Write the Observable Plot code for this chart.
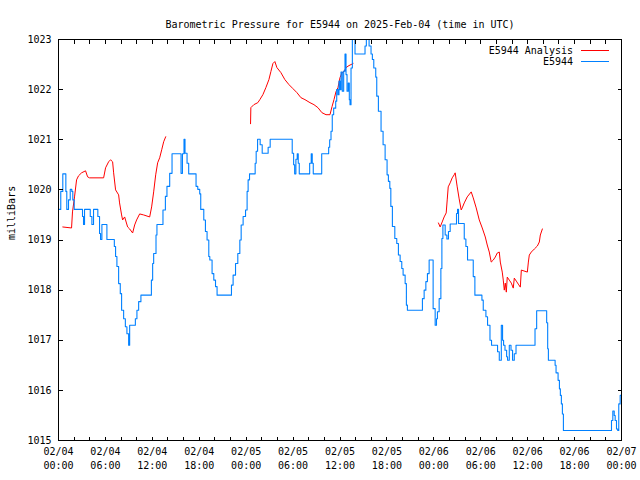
<!DOCTYPE html>
<html>
<head>
<meta charset="utf-8">
<script src="https://cdn.jsdelivr.net/npm/d3@7"></script>
<script src="https://cdn.jsdelivr.net/npm/@observablehq/plot@0.6"></script>
<style>
  html, body { margin: 0; padding: 0; background: #fff; }
  svg { display: block; }
</style>
</head>
<body>
<div id="chart"></div>
<script>
const titleText = "Barometric Pressure for E5944 on 2025-Feb-04 (time in UTC)";
const yAxisLabel = "milliBars";
const seriesNames = ["E5944 Analysis", "E5944"];
const seriesColors = ["#ff0000", "#0080ff"];
const startTimeUTC = "2025-02-04T00:00:00Z";
const spanHours = 72;

const yTickValues = [1015, 1016, 1017, 1018, 1019, 1020, 1021, 1022, 1023];
const xLabelHours = [0, 6, 12, 18, 24, 30, 36, 42, 48, 54, 60, 66, 72];
const xTickHours = [0, 2, 4, 6, 8, 10, 12, 14, 16, 18, 20, 22, 24, 26, 28, 30, 32, 34, 36,
  38, 40, 42, 44, 46, 48, 50, 52, 54, 56, 58, 60, 62, 64, 66, 68, 70, 72];

// E5944 station observations (hours since start, millibars), stepped
const stationHours = [
  0.00,0.29,0.55,0.94,1.06,1.28,1.50,1.70,1.83,2.01,
  3.07,3.20,3.33,4.06,4.27,4.48,5.03,5.25,5.38,5.55,
  6.19,7.14,7.30,7.47,7.69,7.90,8.07,8.33,8.55,8.75,
  8.97,9.10,9.83,10.03,10.25,10.54,11.88,12.04,12.17,12.47,
  12.59,13.36,13.67,13.87,14.22,14.52,15.67,15.85,16.05,16.18,
  16.44,16.65,17.59,17.81,18.06,18.19,18.58,18.79,19.00,19.22,
  19.35,19.64,19.86,20.08,20.28,22.12,22.33,22.64,22.93,23.19,
  23.36,23.61,23.92,24.12,24.25,24.43,25.15,25.28,25.46,25.79,
  26.05,26.81,27.07,29.89,30.07,30.20,30.36,30.53,30.66,30.79,
  32.12,32.32,32.45,32.58,33.66,34.55,34.68,34.85,35.01,35.19,
  35.45,35.58,35.74,35.87,36.00,36.13,36.29,36.47,36.64,36.77,
  36.90,37.06,37.19,37.28,37.41,37.58,37.92,39.20,39.37,39.72,
  39.97,40.14,40.32,40.57,40.70,40.91,41.25,41.51,41.77,42.02,
  42.19,42.37,42.50,42.70,43.01,43.26,43.47,43.69,43.90,44.07,
  44.33,44.49,44.62,46.54,46.76,46.98,47.18,47.40,47.91,48.17,
  48.34,48.46,48.68,48.90,49.03,49.16,49.45,49.67,49.87,50.09,
  50.90,51.03,51.16,51.89,52.10,52.31,53.04,53.25,54.15,54.32,
  54.66,54.87,55.18,55.38,56.15,56.37,56.63,56.79,56.92,57.10,
  57.31,57.43,57.65,57.87,58.07,58.29,58.51,60.94,61.15,62.43,
  62.56,62.65,63.51,63.63,63.89,64.06,64.18,64.31,64.44,64.57,
  70.72,70.89,71.07,71.19,71.36,71.52,71.65,71.83,72.00
];
const stationPressure = [
  1019.61,1019.97,1020.32,1019.97,1019.61,1019.8,1020.01,1019.97,1019.8,1019.61,
  1019.47,1019.31,1019.61,1019.47,1019.31,1019.61,1019.47,1019.13,1019.01,1019.31,
  1019.01,1018.87,1018.67,1018.47,1018.13,1017.93,1017.6,1017.43,1017.27,1017.13,
  1016.9,1017.3,1017.43,1017.6,1017.77,1017.9,1018.2,1018.53,1018.73,1019.1,
  1019.31,1019.6,1019.87,1020.07,1020.33,1020.72,1020.33,1020.72,1021.01,1020.73,
  1020.53,1020.32,1020.07,1020.01,1019.92,1019.61,1019.4,1019.17,1019.0,1018.67,
  1018.6,1018.33,1018.2,1018.07,1017.9,1018.1,1018.3,1018.53,1018.73,1019.0,
  1019.3,1019.47,1019.6,1019.97,1020.2,1020.32,1020.53,1020.77,1021.01,1020.9,
  1020.73,1020.85,1021.01,1020.73,1020.5,1020.32,1020.61,1020.72,1020.53,1020.32,
  1020.53,1020.72,1020.53,1020.32,1020.72,1020.85,1021.0,1021.17,1021.5,1021.63,
  1021.77,1022.0,1021.9,1022.17,1022.0,1022.35,1021.97,1022.37,1022.71,1022.3,
  1021.97,1022.13,1021.8,1021.7,1022.43,1023.0,1022.71,1022.87,1023.0,1022.87,
  1022.71,1022.6,1022.43,1022.25,1021.87,1021.57,1021.17,1020.9,1020.6,1020.3,
  1020.17,1020.03,1019.67,1019.27,1019.03,1018.93,1018.7,1018.57,1018.43,1018.3,
  1018.13,1017.7,1017.6,1017.83,1018.0,1018.17,1018.33,1018.6,1017.63,1017.3,
  1017.43,1017.57,1017.83,1018.43,1019.03,1019.3,1019.1,1019.02,1019.17,1019.32,
  1019.53,1019.61,1019.33,1019.02,1018.87,1018.6,1018.27,1017.9,1017.8,1017.6,
  1017.47,1017.3,1017.0,1016.9,1016.77,1016.6,1017.3,1017.0,1016.9,1016.8,
  1016.67,1016.6,1016.9,1016.8,1016.6,1016.73,1016.9,1017.23,1017.59,1017.35,
  1016.83,1016.6,1016.5,1016.35,1016.2,1016.03,1015.9,1015.73,1015.53,1015.2,
  1015.4,1015.59,1015.5,1015.4,1015.23,1015.2,1015.73,1015.9,1015.9
];

// E5944 Analysis (hours since start, millibars); null separates the runs
const analysisHours = [
  0.55,1.67,1.79,2.05,2.31,2.56,2.95,3.46,3.72,3.97,
  5.77,6.02,6.41,6.66,6.92,7.05,7.30,7.69,7.81,8.07,
  8.20,8.46,8.84,9.10,9.48,9.74,9.99,10.38,10.89,11.66,
  11.91,12.17,12.43,12.68,12.94,13.20,13.45,13.71,
  null,
  24.56,24.60,24.98,25.49,25.75,26.14,26.52,26.91,27.16,27.42,
  27.67,27.93,28.44,28.95,29.47,29.98,30.49,31.00,31.52,32.16,
  32.67,33.18,33.69,34.21,34.72,34.98,35.23,35.49,35.74,36.00,
  36.26,36.51,36.77,37.15,37.67,
  null,
  48.59,48.81,49.07,49.32,49.58,49.71,49.84,50.09,50.35,50.60,
  50.73,50.99,51.24,51.50,51.63,51.89,52.27,52.78,53.04,53.42,
  53.81,54.19,54.58,54.83,55.09,55.34,55.60,55.86,56.11,56.37,
  56.50,56.75,56.88,57.01,57.14,57.27,57.39,57.65,57.91,58.16,
  58.29,58.55,58.80,59.06,59.19,59.96,60.09,60.21,60.47,60.85,
  61.24,61.49,61.62,61.88
];
const analysisPressure = [
  1019.26,1019.24,1019.56,1019.86,1020.2,1020.28,1020.34,1020.38,1020.26,1020.24,
  1020.24,1020.44,1020.56,1020.6,1020.56,1020.34,1020.0,1019.9,1019.74,1019.5,
  1019.4,1019.46,1019.26,1019.22,1019.14,1019.3,1019.4,1019.52,1019.5,1019.46,
  1019.66,1019.96,1020.3,1020.54,1020.64,1020.8,1020.96,1021.06,
  null,
  1021.32,1021.64,1021.7,1021.74,1021.8,1021.9,1022.04,1022.2,1022.36,1022.52,
  1022.56,1022.44,1022.34,1022.2,1022.1,1022.02,1021.94,1021.84,1021.8,1021.74,
  1021.7,1021.64,1021.54,1021.5,1021.5,1021.66,1021.8,1021.96,1022.04,1022.24,
  1022.34,1022.36,1022.44,1022.48,1022.52,
  null,
  1019.34,1019.26,1019.36,1019.46,1019.54,1019.8,1020.06,1020.14,1020.24,1020.3,
  1020.34,1020.06,1019.82,1019.6,1019.64,1019.74,1019.86,1019.96,1019.84,1019.64,
  1019.4,1019.24,1019.06,1018.9,1018.76,1018.56,1018.6,1018.66,1018.74,1018.76,
  1018.56,1018.36,1018.2,1018.0,1018.14,1017.96,1018.26,1018.2,1018.14,1018.04,
  1018.24,1018.18,1018.12,1018.06,1018.4,1018.36,1018.56,1018.7,1018.76,1018.82,
  1018.88,1018.96,1019.1,1019.22
];

const FONT = "'DejaVu Sans Mono', 'Liberation Mono', monospace";
const t0 = new Date(startTimeUTC).getTime();
const toDate = h => (h == null ? null : new Date(t0 + h * 3600000));
const fmtDate = d3.utcFormat("%m/%d");
const fmtTime = d3.utcFormat("%H:%M");

const station = stationHours.map((h, i) => ({time: toDate(h), p: stationPressure[i]}));
const analysis = analysisHours.map((h, i) => ({time: toDate(h), p: analysisPressure[i]}));

// inward ticks on all four sides, positioned through the plot's scales
function frameTicks(index, scales, values, dims) {
  const g = d3.create("svg:g")
    .attr("stroke", "#000").attr("stroke-width", 1)
    .attr("shape-rendering", "crispEdges");
  const L = dims.marginLeft + 0.5;
  const R = dims.width - dims.marginRight + 0.5;
  const T = dims.marginTop + 0.5;
  const B = dims.height - dims.marginBottom + 0.5;
  const len = 4;
  for (const h of xTickHours) {
    const px = Math.round(scales.x(toDate(h))) + 0.5;
    g.append("line").attr("x1", px).attr("x2", px).attr("y1", B).attr("y2", B - len);
    g.append("line").attr("x1", px).attr("x2", px).attr("y1", T).attr("y2", T + len);
  }
  for (const v of yTickValues) {
    const py = Math.round(scales.y(v)) + 0.5;
    g.append("line").attr("x1", L).attr("x2", L + len).attr("y1", py).attr("y2", py);
    g.append("line").attr("x1", R).attr("x2", R - len).attr("y1", py).attr("y2", py);
  }
  return g.node();
}

function legend(index, scales, values, dims) {
  const g = d3.create("svg:g");
  const right = dims.width - dims.marginRight;
  seriesNames.forEach((name, i) => {
    const yc = dims.marginTop + 12 + i * 11;
    g.append("text")
      .attr("x", right - 48).attr("y", yc).attr("dy", "0.32em")
      .attr("text-anchor", "end")
      .attr("font-family", FONT).attr("font-size", 10).attr("fill", "#000")
      .text(name);
    g.append("line")
      .attr("x1", right - 40).attr("x2", right - 12)
      .attr("y1", Math.round(yc) - 0.5).attr("y2", Math.round(yc) - 0.5)
      .attr("stroke", seriesColors[i]).attr("stroke-width", 1)
      .attr("shape-rendering", "crispEdges");
  });
  return g.node();
}

const chart = Plot.plot({
  width: 640,
  height: 480,
  marginTop: 39,
  marginRight: 19,
  marginBottom: 40,
  marginLeft: 58,
  style: {fontFamily: FONT, fontSize: "10px", background: "#fff", color: "#000"},
  x: {type: "utc", domain: [toDate(0), toDate(spanHours)], axis: null},
  y: {domain: [yTickValues[0], yTickValues[yTickValues.length - 1]], axis: null},
  marks: [
    Plot.line(analysis, {x: "time", y: "p", stroke: seriesColors[0], strokeWidth: 1, clip: true}),
    Plot.line(station, {x: "time", y: "p", stroke: seriesColors[1], strokeWidth: 1.1,
      curve: "step-after", clip: true}),
    Plot.frame({stroke: "#000", strokeWidth: 1}),
    frameTicks,
    Plot.text(yTickValues, {y: d => d, frameAnchor: "left", dx: -7, textAnchor: "end", text: d => String(d)}),
    Plot.text(xLabelHours, {x: h => toDate(h), frameAnchor: "bottom", dy: 14, text: h => fmtDate(toDate(h))}),
    Plot.text(xLabelHours, {x: h => toDate(h), frameAnchor: "bottom", dy: 28, text: h => fmtTime(toDate(h))}),
    Plot.text([titleText], {frameAnchor: "top", dy: -19, text: d => d}),
    Plot.text([yAxisLabel], {frameAnchor: "left", dx: -47, rotate: -90, text: d => d}),
    legend
  ]
});
document.getElementById("chart").appendChild(chart);
</script>
</body>
</html>
